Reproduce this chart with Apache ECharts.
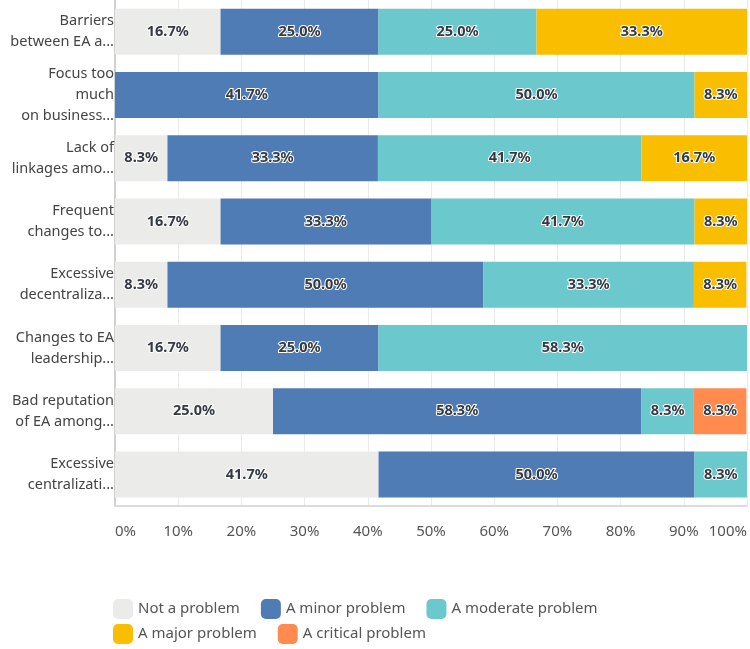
<!DOCTYPE html>
<html>
<head>
<meta charset="utf-8">
<script src="https://cdn.jsdelivr.net/npm/echarts@6/dist/echarts.min.js"></script>
<style>
  html, body { margin: 0; padding: 0; background: #fff; }
  #chart { width: 750px; height: 649px; }
</style>
</head>
<body>
<div id="chart"></div>
<script>
// categories, top to bottom
var categories = [
    'Barriers\nbetween EA a...',
    'Focus too\nmuch\non business...',
    'Lack of\nlinkages amo...',
    'Frequent\nchanges to...',
    'Excessive\ndecentraliza...',
    'Changes to EA\nleadership...',
    'Bad reputation\nof EA among...',
    'Excessive\ncentralizati...'
];
var seriesNames = ['Not a problem', 'A minor problem', 'A moderate problem', 'A major problem', 'A critical problem'];
var colors = ['#ebebea', '#507cb6', '#6bc8cd', '#f9be00', '#ff8b4f'];
var notProblem = [16.7, 0, 8.3, 16.7, 8.3, 16.7, 25.0, 41.7];
var minorProblem = [25.0, 41.7, 33.3, 33.3, 50.0, 25.0, 58.3, 50.0];
var moderateProblem = [25.0, 50.0, 41.7, 41.7, 33.3, 58.3, 8.3, 8.3];
var majorProblem = [33.3, 8.3, 16.7, 8.3, 8.3, 0, 0, 0];
var criticalProblem = [0, 0, 0, 0, 0, 0, 8.3, 0];
var xTicks = [0, 10, 20, 30, 40, 50, 60, 70, 80, 90, 100];

var font = '"Noto Sans", sans-serif';
var allData = [notProblem, minorProblem, moderateProblem, majorProblem, criticalProblem];

var series = [];
for (var i = 0; i < seriesNames.length; i++) {
    series.push({
        name: seriesNames[i],
        type: 'bar',
        stack: 'total',
        barWidth: 46,
        data: allData[i],
        itemStyle: { color: colors[i] },
        label: {
            show: true,
            position: 'inside',
            fontFamily: font,
            fontSize: 14.5,
            fontWeight: 'bold',
            color: '#333a44',
            textBorderColor: '#fff',
            textBorderWidth: 2,
            formatter: function (p) {
                return p.value > 0 ? p.value.toFixed(1) + '%' : '';
            }
        },
        emphasis: { disabled: true }
    });
}

var legendStyle = {
    itemWidth: 20,
    itemHeight: 20,
    itemGap: 21,
    icon: 'roundRect',
    textStyle: { fontSize: 15, color: '#555', fontFamily: font }
};

var myChart = echarts.init(document.getElementById('chart'));
var option = {
    animation: false,
    textStyle: { fontFamily: font },
    grid: {
        left: 115,
        right: 2,
        top: 0,
        bottom: 143,
        containLabel: false
    },
    legend: [
        echarts.util.extend({ left: 108, top: 594, data: seriesNames.slice(0, 3) }, legendStyle),
        echarts.util.extend({ left: 108, top: 619, data: seriesNames.slice(3) }, legendStyle)
    ],
    xAxis: {
        type: 'value',
        min: 0,
        max: 100,
        interval: 10,
        axisLine: { show: true, lineStyle: { color: '#dcdcdc', width: 2 } },
        axisTick: { show: false },
        splitLine: { lineStyle: { color: '#ebebeb', width: 1 } },
        axisLabel: {
            margin: 18,
            fontSize: 15,
            color: '#555',
            fontFamily: font,
            alignMinLabel: 'left',
            alignMaxLabel: 'right',
            formatter: function (v) {
                return xTicks.indexOf(v) >= 0 ? v + '%' : '';
            }
        }
    },
    yAxis: {
        type: 'category',
        inverse: true,
        data: categories,
        axisLine: { show: true, lineStyle: { color: '#d0d0d0', width: 2 } },
        axisTick: { show: false },
        axisLabel: {
            margin: 1,
            fontSize: 14.5,
            lineHeight: 21,
            color: '#444',
            fontFamily: font,
            align: 'right'
        }
    },
    series: series
};
myChart.setOption(option);
</script>
</body>
</html>
